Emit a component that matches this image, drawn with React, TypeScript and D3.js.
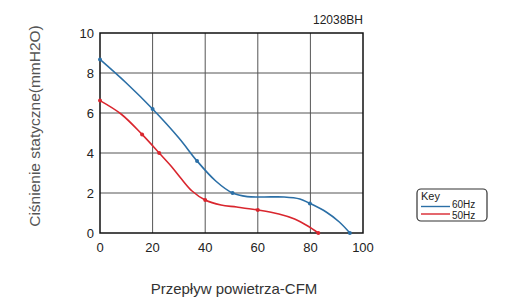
import React from "react";
import * as d3 from "d3";

const xTicks = [0, 20, 40, 60, 80, 100];
const yTicks = [0, 2, 4, 6, 8, 10];

const blueX = [0, 10, 20, 30, 36.9, 44, 50.4, 56, 62, 70, 76, 79.8, 86, 91, 95];
const blueY = [8.68, 7.5, 6.2, 4.75, 3.6, 2.6, 2.0, 1.82, 1.8, 1.8, 1.7, 1.48, 1.05, 0.55, 0];
const blueMarks = [0, 20, 36.9, 50.4, 79.8, 95];
const blueMarkY = [8.68, 6.2, 3.6, 2.0, 1.48, 0];

const redX = [0, 8, 16, 22.5, 27, 31, 35, 40, 46, 52, 60, 68, 74, 79, 83];
const redY = [6.62, 5.95, 4.93, 4.0, 3.35, 2.7, 2.1, 1.65, 1.4, 1.3, 1.15, 0.95, 0.7, 0.35, 0];
const redMarks = [0, 16, 22.5, 40, 60, 83];
const redMarkY = [6.62, 4.93, 4.0, 1.65, 1.15, 0];

const BLUE = "#2b6fa6";
const RED = "#d9262e";

export default function App() {
  const x = d3.scaleLinear().domain([0, 100]).range([100, 363]);
  const y = d3.scaleLinear().domain([0, 10]).range([233, 33]);
  const line = d3
    .line<[number, number]>()
    .x((d) => x(d[0]))
    .y((d) => y(d[1]))
    .curve(d3.curveCatmullRom.alpha(0.5));
  const blue = blueX.map((v, i) => [v, blueY[i]] as [number, number]);
  const red = redX.map((v, i) => [v, redY[i]] as [number, number]);
  const font = "Arial, 'Liberation Sans', sans-serif";
  return (
    <svg width={531} height={301} style={{ position: "absolute", left: 0, top: 0, background: "#fff" }} fontFamily={font}>
      <rect x={0} y={0} width={531} height={301} fill="#fff" />
      {xTicks.slice(1, -1).map((t) => (
        <line key={"gx" + t} x1={x(t)} x2={x(t)} y1={y(0)} y2={y(10)} stroke="#555" strokeWidth={1} />
      ))}
      {yTicks.slice(1, -1).map((t) => (
        <line key={"gy" + t} x1={x(0)} x2={x(100)} y1={y(t)} y2={y(t)} stroke="#555" strokeWidth={1} />
      ))}
      <rect x={x(0)} y={y(10)} width={x(100) - x(0)} height={y(0) - y(10)} fill="none" stroke="#111" strokeWidth={1.5} />
      {xTicks.map((t) => (
        <text key={"tx" + t} x={x(t)} y={252} textAnchor="middle" fontSize={13} fill="#222">
          {t}
        </text>
      ))}
      {yTicks.map((t) => (
        <text key={"ty" + t} x={94} y={y(t) + 4.5} textAnchor="end" fontSize={13} fill="#222">
          {t}
        </text>
      ))}
      <path d={line(blue) || ""} fill="none" stroke={BLUE} strokeWidth={1.6} />
      <path d={line(red) || ""} fill="none" stroke={RED} strokeWidth={1.6} />
      {blueMarks.map((v, i) => (
        <circle key={"bm" + i} cx={x(v)} cy={y(blueMarkY[i])} r={2} fill={BLUE} />
      ))}
      {redMarks.map((v, i) => (
        <circle key={"rm" + i} cx={x(v)} cy={y(redMarkY[i])} r={2} fill={RED} />
      ))}
      <text x={363} y={24} textAnchor="end" fontSize={12} fill="#222">12038BH</text>
      <text
        transform={`translate(40,126) rotate(-90)`}
        textAnchor="middle"
        fontSize={15.5}
        fill="#555"
      >
        Ciśnienie statyczne(mmH2O)
      </text>
      <text x={234} y={294} textAnchor="middle" fontSize={15} fill="#333">
        Przepływ powietrza-CFM
      </text>
      <rect x={417} y={189} width={70} height={32} rx={4} fill="#fff" stroke="#333" strokeWidth={1.2} />
      <text x={421} y={199.5} fontSize={11} fill="#222">Key</text>
      <line x1={421} x2={450} y1={206.5} y2={206.5} stroke={BLUE} strokeWidth={1.4} />
      <text x={452} y={207.5} fontSize={10} fill="#222">60Hz</text>
      <line x1={421} x2={450} y1={214} y2={214} stroke={RED} strokeWidth={1.4} />
      <text x={452} y={219} fontSize={10} fill="#222">50Hz</text>
    </svg>
  );
}
